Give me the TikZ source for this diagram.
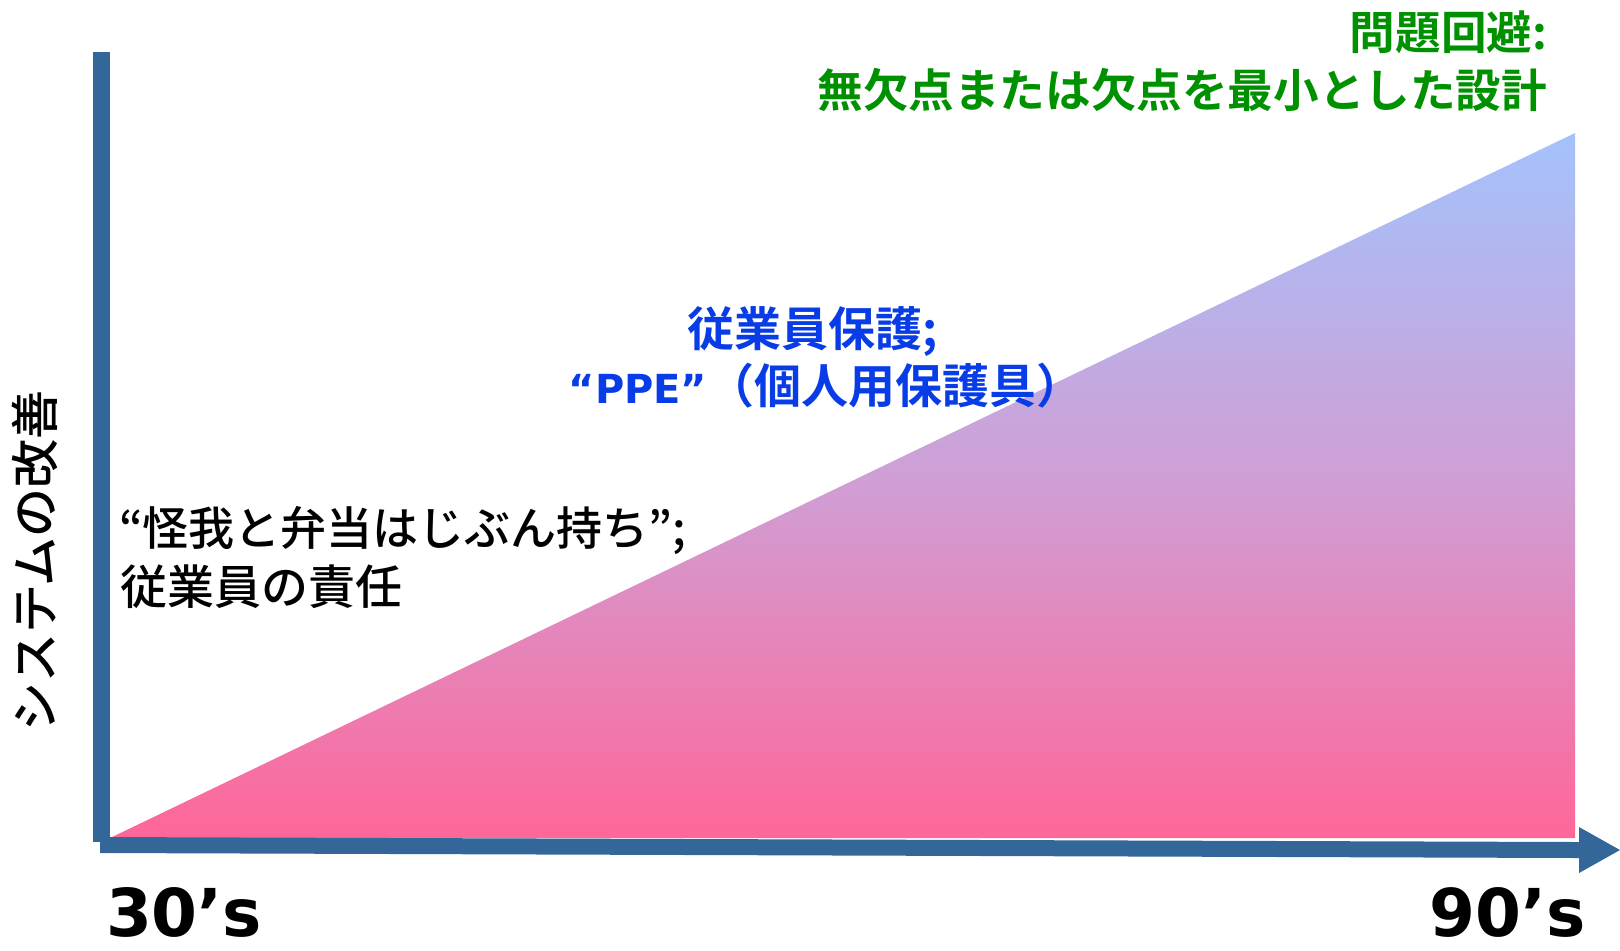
\documentclass[tikz,border=0pt]{standalone}
\usepackage{fontspec}
\newfontfamily\jp{Noto Sans CJK JP}
\newfontfamily\jpm{Noto Sans CJK JP Medium}
\newfontfamily\jpb{Noto Sans CJK JP Bold}
\newfontfamily\lat{DejaVu Sans}
\definecolor{axisblue}{RGB}{51,102,153}
\definecolor{topblue}{RGB}{164,194,252}
\definecolor{midpurple}{RGB}{208,158,212}
\definecolor{botpink}{RGB}{255,102,153}
\definecolor{txtgreen}{RGB}{0,145,0}
\definecolor{txtblue}{RGB}{8,60,230}
\begin{document}
\begin{tikzpicture}[x=0.5pt,y=-0.5pt,
  lbl/.style={inner sep=0pt, outer sep=0pt},
  greenlbl/.style={lbl, font=\jpb\fontsize{22.8}{28}\selectfont, text=txtgreen},
  bluelbl/.style={lbl, font=\jpb\fontsize{23.5}{28}\selectfont, text=txtblue},
  blacklbl/.style={lbl, font=\jpm\fontsize{23.5}{28}\selectfont, text=black},
  decade/.style={lbl, font=\lat\bfseries\fontsize{33}{36}\selectfont, text=black},
  axisfill/.style={fill=axisblue, draw=none}]
\useasboundingbox (0,0) rectangle (1620,950);
% gradient triangle
\shade[top color=topblue, bottom color=botpink, middle color=midpurple, draw=none]
  (110,838) -- (1575,133) -- (1575,838) -- cycle;
% axes
\fill[axisfill] (93,52) rectangle (110,842);
\fill[axisfill] (100,837) -- (1579,842) -- (1579,858) -- (100,853) -- cycle;
\fill[axisfill] (1579,827) -- (1620,850) -- (1579,873) -- cycle;
% labels
\node[lbl, font=\jpm\fontsize{24.5}{28}\selectfont, rotate=90] (ylab) at (35,561) {システムの改善};
\node[decade, anchor=base west] (d30) at (106,936) {30’s};
\node[decade, anchor=base east] (d90) at (1586,936) {90’s};
\node[greenlbl, anchor=base east] (g1) at (1547,49) {問題回避:};
\node[greenlbl, anchor=base east] (g2) at (1547,107) {無欠点または欠点を最小とした設計};
\node[bluelbl, anchor=base] (b1) at (813,346) {従業員保護;};
\node[bluelbl, anchor=base] (b2) at (826,403) {{\lat\bfseries\fontsize{20}{28}\selectfont “PPE”}（個人用保護具）};
\node[blacklbl, anchor=base west, font=\jpm\fontsize{23}{28}\selectfont] (k1) at (119,545) {“怪我と弁当はじぶん持ち”;};
\node[blacklbl, anchor=base west] (k2) at (120,604) {従業員の責任};
\end{tikzpicture}
\end{document}
